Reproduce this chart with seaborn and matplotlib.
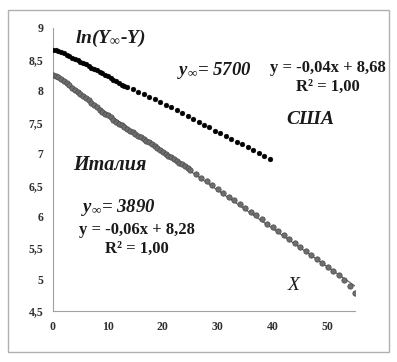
import matplotlib
matplotlib.use("Agg")
import matplotlib.pyplot as plt
import seaborn as sns
import pandas as pd
from matplotlib.patches import Rectangle

# ---- data ----
usa_x = [0, 0.5, 1, 1.5, 2, 2.5, 3, 3.5, 4, 4.5, 5, 5.5, 6, 6.5, 7, 7.5, 8, 8.5,
         9, 9.5, 10, 10.5, 11, 11.5, 12, 12.5, 13,
         13.5, 14.5, 15.5, 16.5, 17.5, 18.5, 19.5, 20.5, 21.5, 22.5, 23.5, 24.5,
         25.5, 26.5, 27.5, 28.5, 29.5, 30.5, 31.5, 32.5, 33.5, 34.5, 35.5, 36.5,
         37.5, 38.5, 39.5]
usa_y = [8.65, 8.645, 8.64, 8.62, 8.60, 8.57, 8.55, 8.53, 8.51, 8.49, 8.46, 8.44,
         8.42, 8.40, 8.37, 8.35, 8.33, 8.30, 8.28, 8.25, 8.23, 8.20, 8.18, 8.15,
         8.12, 8.10, 8.08,
         8.06, 8.03, 7.99, 7.95, 7.91, 7.87, 7.83, 7.78, 7.74, 7.69, 7.65, 7.60,
         7.55, 7.51, 7.46, 7.42, 7.37, 7.33, 7.28, 7.24, 7.19, 7.15, 7.10, 7.06,
         7.01, 6.96, 6.91]

ita_x = [0, 0.5, 1, 1.5, 2, 2.5, 3, 3.5, 4, 4.5, 5, 5.5, 6, 6.5, 7, 7.5, 8, 8.5,
         9, 9.5, 10, 10.5, 11, 11.5, 12, 12.5, 13, 13.5, 14, 14.5, 15, 15.5, 16,
         16.5, 17, 17.5, 18, 18.5, 19, 19.5, 20, 20.5, 21, 21.5, 22, 22.5, 23,
         23.5, 24, 24.5, 25,
         26, 27, 28, 29, 30, 31, 32, 33, 34, 35, 36, 37, 38, 39, 40, 41, 42, 43,
         44, 45, 46, 47, 48, 49, 50, 51, 52, 53, 54, 55]
ita_y = [8.25, 8.24, 8.22, 8.19, 8.15, 8.12, 8.09, 8.05, 8.02, 7.99, 7.95, 7.92,
         7.88, 7.85, 7.81, 7.77, 7.74, 7.70, 7.67, 7.64, 7.61, 7.58, 7.54, 7.51,
         7.48, 7.45, 7.42, 7.39, 7.37, 7.34, 7.31, 7.29, 7.26, 7.23, 7.21, 7.18,
         7.15, 7.12, 7.09, 7.06, 7.03, 7.00, 6.97, 6.95, 6.92, 6.89, 6.86, 6.83,
         6.80, 6.77, 6.74,
         6.68, 6.62, 6.56, 6.50, 6.44, 6.38, 6.32, 6.26, 6.20, 6.14, 6.08, 6.02,
         5.96, 5.89, 5.83, 5.77, 5.71, 5.64, 5.58, 5.52, 5.45, 5.39, 5.33, 5.27,
         5.20, 5.14, 5.07, 4.99, 4.89, 4.78]

x_ticks = [0, 10, 20, 30, 40, 50]
y_ticks = [4.5, 5, 5.5, 6, 6.5, 7, 7.5, 8, 8.5, 9]
y_tick_labels = ["4,5", "5", "5,5", "6", "6,5", "7", "7,5", "8", "8,5", "9"]

usa = pd.DataFrame({"x": usa_x, "y": usa_y})
ita = pd.DataFrame({"x": ita_x, "y": ita_y})

sns.set_style("white")
plt.rcParams["font.family"] = ["Liberation Serif", "DejaVu Serif"]
plt.rcParams["mathtext.fontset"] = "custom"
plt.rcParams["mathtext.it"] = "Liberation Serif:italic:bold"
plt.rcParams["mathtext.rm"] = "Liberation Serif:bold"
plt.rcParams["mathtext.bf"] = "Liberation Serif:bold"
plt.rcParams["mathtext.default"] = "it"

fig = plt.figure(figsize=(3.97, 3.62), dpi=100)
fig.patches.append(Rectangle((8 / 397, 10 / 362), 381 / 397, 342 / 362,
                             transform=fig.transFigure, fill=False,
                             edgecolor="#b0b0b0", linewidth=1.0))
ax = fig.add_axes([53 / 397, 51 / 362, 302 / 397, 283 / 362])

sns.regplot(data=ita, x="x", y="y", scatter=False, ci=None, ax=ax,
            line_kws=dict(color="#555555", linewidth=0.8), truncate=True)
sns.scatterplot(data=ita, x="x", y="y", ax=ax, color="#6e6e6e",
                edgecolor="#4a4a4a", linewidth=0.5, s=15, zorder=3)
sns.scatterplot(data=usa, x="x", y="y", ax=ax, color="black",
                edgecolor="black", linewidth=0.3, s=12, zorder=4)

ax.set_xlim(0, 55)
ax.set_ylim(4.5, 9)
ax.set_xticks(x_ticks)
ax.set_yticks(y_ticks)
ax.set_yticklabels(y_tick_labels)
ax.set_xlabel("")
ax.set_ylabel("")
for s in ["top", "right"]:
    ax.spines[s].set_visible(False)
for s in ["left", "bottom"]:
    ax.spines[s].set_color("#a0a0a0")
    ax.spines[s].set_linewidth(0.8)
ax.tick_params(axis="both", which="major", length=3, width=0.8, color="#a0a0a0",
               labelsize=8.5, labelcolor="#303030", direction="out", pad=4)
for lab in ax.get_xticklabels() + ax.get_yticklabels():
    lab.set_fontweight("bold")

tk = dict(fontweight="bold", color="#1a1a1a")
ax.text(4.0, 8.84, r"ln(Y$_{\infty}$-Y)", fontsize=14, style="italic", va="center",
        ha="left", **tk)
ax.text(22.6, 8.32, r"$y_{\infty}$= 5700", fontsize=13.5, style="italic", va="center",
        ha="left", **tk)
ax.text(50.0, 8.37, "y = -0,04x + 8,68", fontsize=12, va="center", ha="center", **tk)
ax.text(50.0, 8.07, "R² = 1,00", fontsize=12, va="center", ha="center", **tk)
ax.text(46.8, 7.54, "США", fontsize=14, style="italic", va="center", ha="center", **tk)
ax.text(3.7, 6.82, "Италия", fontsize=14.5, style="italic", va="center", ha="left", **tk)
ax.text(5.1, 6.15, r"$y_{\infty}$= 3890", fontsize=13.5, style="italic", va="center",
        ha="left", **tk)
ax.text(15.3, 5.79, "y = -0,06x + 8,28", fontsize=12, va="center", ha="center", **tk)
ax.text(15.3, 5.49, "R² = 1,00", fontsize=12, va="center", ha="center", **tk)
ax.text(43.8, 4.9, "X", fontsize=14, style="italic", va="center", ha="center",
        color="#1a1a1a")

fig.savefig("out.png", dpi=100, facecolor="white")
